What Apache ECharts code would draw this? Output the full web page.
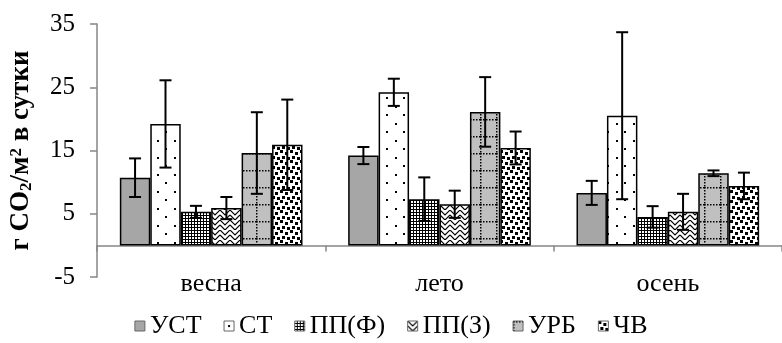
<!DOCTYPE html>
<html>
<head>
<meta charset="utf-8">
<script src="https://cdn.jsdelivr.net/npm/echarts@6/dist/echarts.min.js"></script>
<style>
  html, body { margin: 0; padding: 0; background: #fff; }
  #chart { width: 782px; height: 343px; }
</style>
</head>
<body>
<div id="chart"></div>
<script>
// Seasons and soil/land-use groups
const seasons = ['весна', 'лето', 'осень'];
const groupNames = ['УСТ', 'СТ', 'ПП(Ф)', 'ПП(З)', 'УРБ', 'ЧВ'];

// Daily CO2 flux, g CO2/m2 per day (one array per group, per season)
const valUST  = [10.7, 14.2, 8.3];
const valST   = [19.2, 24.2, 20.5];
const valPPF  = [5.3, 7.3, 4.5];
const valPPZ  = [5.9, 6.5, 5.3];
const valURB  = [14.6, 21.1, 11.4];
const valCHV  = [15.9, 15.4, 9.4];

// Error bar half-lengths
const errUST  = [3.05, 1.35, 1.9];
const errST   = [6.9, 2.15, 13.2];
const errPPF  = [0.95, 3.45, 1.7];
const errPPZ  = [1.75, 2.15, 2.85];
const errURB  = [6.45, 5.5, 0.45];
const errCHV  = [7.15, 2.6, 2.1];

// Value axis ticks
const yMin = -5, yMax = 35, yStep = 10;

const values = [valUST, valST, valPPF, valPPZ, valURB, valCHV];
const errors = [errUST, errST, errPPF, errPPZ, errURB, errCHV];

// ---- hatch fills -------------------------------------------------------
function tile(w, h, draw) {
  const c = document.createElement('canvas');
  c.width = w; c.height = h;
  const g = c.getContext('2d');
  draw(g, w, h);
  return c;
}
const fills = [
  '#a6a6a6',
  { image: tile(17, 17, (g) => {
      g.fillStyle = '#fff'; g.fillRect(0, 0, 17, 17);
      g.fillStyle = '#000';
      g.fillRect(4, 4, 2, 2); g.fillRect(12, 12, 2, 2);
    }), repeat: 'repeat' },
  { image: tile(3, 3, (g) => {
      g.fillStyle = '#000'; g.fillRect(0, 0, 3, 3);
      g.fillStyle = '#fff'; g.fillRect(0, 0, 2, 2);
    }), repeat: 'repeat' },
  { image: tile(10, 10, (g) => {
      g.fillStyle = '#fff'; g.fillRect(0, 0, 10, 10);
      g.strokeStyle = '#000'; g.lineWidth = 1.2;
      g.beginPath();
      g.moveTo(0, 0); g.lineTo(5, 5); g.lineTo(10, 0);
      g.moveTo(0, 5); g.lineTo(5, 10); g.lineTo(10, 5);
      g.stroke();
    }), repeat: 'repeat' },
  { image: tile(16, 17, (g) => {
      g.fillStyle = '#c0c0c0'; g.fillRect(0, 0, 16, 17);
      g.fillStyle = '#000';
      for (let x = 0; x < 16; x += 3) g.fillRect(x, 0, 1.5, 1.5);
      for (let y = 0; y < 17; y += 3) g.fillRect(0, y, 1.5, 1.5);
    }), repeat: 'repeat' },
  { image: tile(10, 10, (g) => {
      g.fillStyle = '#fff'; g.fillRect(0, 0, 10, 10);
      g.fillStyle = '#000';
      g.fillRect(0, 0, 3, 3); g.fillRect(5, 2, 3, 3);
      g.fillRect(2, 6, 3, 3); g.fillRect(7, 7, 3, 3);
    }), repeat: 'repeat' }
];

const serif = "'Liberation Serif', 'Times New Roman', serif";
const nGroups = groupNames.length;
const catGap = 0.2;

const barSeries = groupNames.map((name, i) => ({
  type: 'bar',
  name: name,
  data: values[i],
  barGap: '0%',
  barCategoryGap: (catGap * 100) + '%',
  itemStyle: { color: fills[i], borderColor: '#000', borderWidth: 1.5 },
  z: 2
}));

const errSeries = groupNames.map((name, i) => ({
  type: 'custom',
  name: name + '_err',
  data: values[i].map((v, k) => [k, v, errors[i][k]]),
  encode: { x: 0, y: 1 },
  z: 5,
  renderItem: function (params, api) {
    const cat = api.value(0), v = api.value(1), e = api.value(2);
    const band = api.size([1, 0])[0];
    const bw = band * (1 - catGap) / nGroups;
    const x = api.coord([cat, v])[0] + (i - (nGroups - 1) / 2) * bw;
    const yTop = api.coord([cat, v + e])[1];
    const yBot = api.coord([cat, v - e])[1];
    const cap = 6;
    const st = { stroke: '#000', lineWidth: 2 };
    return {
      type: 'group',
      children: [
        { type: 'line', shape: { x1: x, y1: yTop, x2: x, y2: yBot }, style: st },
        { type: 'line', shape: { x1: x - cap, y1: yTop, x2: x + cap, y2: yTop }, style: st },
        { type: 'line', shape: { x1: x - cap, y1: yBot, x2: x + cap, y2: yBot }, style: st }
      ]
    };
  }
}));

const chart = echarts.init(document.getElementById('chart'), null, { renderer: 'canvas' });
chart.setOption({
  animation: false,
  textStyle: { fontFamily: serif, color: '#000' },
  grid: { left: 95, right: -7, top: 24, bottom: 66, containLabel: false },
  legend: {
    data: groupNames,
    bottom: -1,
    left: 'center',
    itemWidth: 10,
    itemHeight: 10,
    itemGap: 22,
    icon: 'rect',
    itemStyle: { borderColor: '#666', borderWidth: 1 },
    textStyle: { fontFamily: serif, fontSize: 26, color: '#000', padding: [0, 0, 0, 0] }
  },
  xAxis: {
    type: 'category',
    data: seasons,
    axisLine: { onZero: true, lineStyle: { color: '#868686', width: 1.5 } },
    axisTick: { show: true, length: 6, lineStyle: { color: '#868686', width: 1.5 } },
    axisLabel: { fontFamily: serif, fontSize: 26, color: '#000', margin: -6 },
    splitLine: { show: false }
  },
  yAxis: {
    type: 'value',
    min: yMin,
    max: yMax,
    interval: yStep,
    axisLine: { show: true, lineStyle: { color: '#868686', width: 1.5 } },
    axisTick: { show: true, length: 7, lineStyle: { color: '#868686', width: 1.5 } },
    axisLabel: { fontFamily: serif, fontSize: 25, color: '#000', margin: 22 },
    splitLine: { show: false },
    name: '{b|г CO}{sub|2}{b|/м}{sup|2}{b| в сутки}',
    nameLocation: 'middle',
    nameGap: 62,
    nameTextStyle: {
      rich: {
        b: { fontFamily: serif, fontSize: 27, fontWeight: 'bold', color: '#000' },
        sub: { fontFamily: serif, fontSize: 17, fontWeight: 'bold', color: '#000', verticalAlign: 'bottom', padding: [10, 0, 0, 0] },
        sup: { fontFamily: serif, fontSize: 17, fontWeight: 'bold', color: '#000', verticalAlign: 'top', padding: [0, 0, 10, 0] }
      }
    }
  },
  series: barSeries.concat(errSeries)
});
</script>
</body>
</html>
